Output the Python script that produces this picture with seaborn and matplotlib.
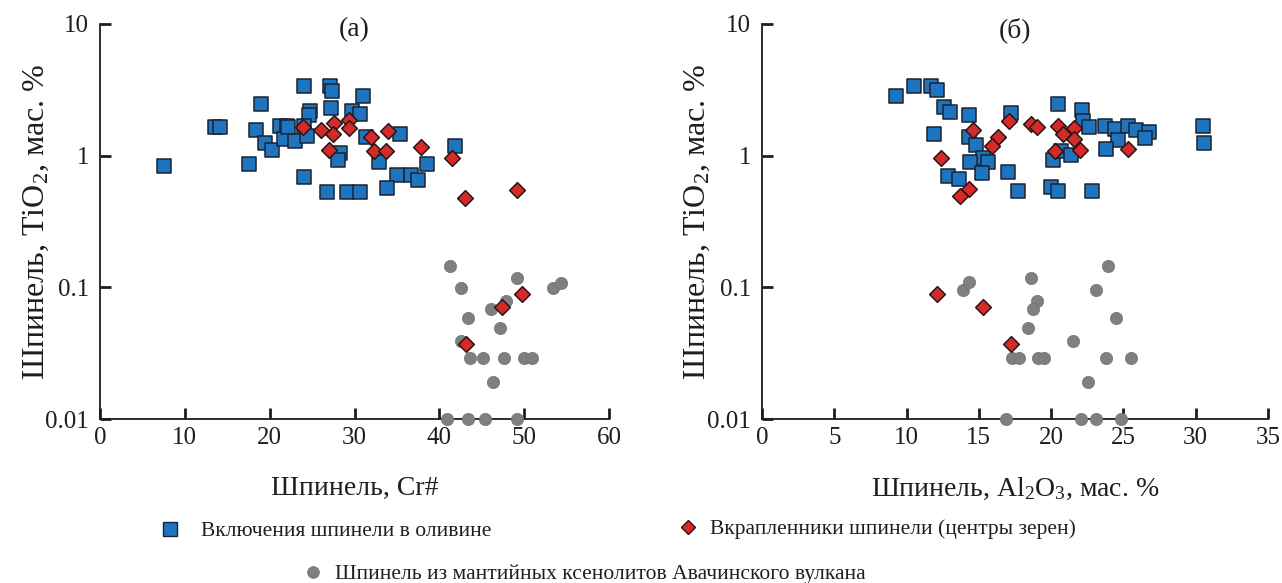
import matplotlib
matplotlib.use("Agg")
import matplotlib.pyplot as plt
from matplotlib.lines import Line2D
import seaborn as sns
import pandas as pd

# --- (а) Cr# vs TiO2 ---
a_incl_cr = [7.6, 13.5, 14.1, 17.6, 18.4, 19.0, 19.5, 20.3, 21.2, 22.0, 21.7, 23.0,
             24.1, 27.1, 27.3, 31.0, 24.8, 24.6, 27.2, 29.7, 30.7, 22.2, 24.0, 24.4,
             28.3, 28.1, 31.3, 35.4, 32.9, 38.6, 41.9, 35.0, 36.7, 37.5, 33.8, 24.1,
             26.7, 29.1, 30.6]
a_incl_ti = [0.84, 1.65, 1.65, 0.87, 1.58, 2.45, 1.24, 1.11, 1.69, 1.69, 1.34, 1.30,
             3.41, 3.41, 3.12, 2.83, 2.17, 2.02, 2.31, 2.20, 2.08, 1.64, 1.69, 1.42,
             1.04, 0.92, 1.38, 1.45, 0.90, 0.87, 1.19, 0.71, 0.71, 0.65, 0.57, 0.69,
             0.53, 0.53, 0.53]

a_phen_cr = [23.9, 26.1, 27.6, 27.5, 29.4, 29.3, 27.0, 32.0, 34.0, 32.3, 33.7, 37.8,
             41.5, 43.0, 49.2, 49.8, 47.4, 43.2]
a_phen_ti = [1.64, 1.58, 1.76, 1.46, 1.85, 1.62, 1.10, 1.38, 1.55, 1.09, 1.08, 1.16,
             0.96, 0.48, 0.55, 0.089, 0.071, 0.037]

a_xeno_cr = [41.2, 42.6, 49.2, 53.4, 54.4, 47.9, 46.1, 43.4, 47.1, 42.6, 43.6, 45.1,
             47.6, 50.0, 50.9, 46.3, 40.9, 43.4, 45.4, 49.1]
a_xeno_ti = [0.145, 0.098, 0.118, 0.098, 0.107, 0.079, 0.069, 0.059, 0.049, 0.039,
             0.029, 0.029, 0.029, 0.029, 0.029, 0.019, 0.01, 0.01, 0.01, 0.01]

# --- (б) Al2O3 vs TiO2 ---
b_incl_al = [9.3, 10.5, 11.7, 12.1, 12.6, 13.0, 14.3, 11.9, 14.3, 14.8, 15.3, 15.6,
             14.4, 15.25, 12.9, 13.6, 17.0, 17.2, 17.7, 20.5, 22.1, 22.2, 22.6, 23.7,
             24.4, 25.3, 25.9, 26.8, 24.6, 26.5, 23.8, 30.5, 30.55, 20.1, 20.7, 21.4,
             20.0, 20.5, 22.8]
b_incl_ti = [2.86, 3.41, 3.41, 3.14, 2.35, 2.15, 2.05, 1.45, 1.39, 1.20, 0.96, 0.90,
             0.89, 0.74, 0.70, 0.66, 0.75, 2.11, 0.54, 2.49, 2.21, 1.83, 1.64, 1.67,
             1.60, 1.69, 1.56, 1.51, 1.32, 1.36, 1.12, 1.69, 1.25, 0.93, 1.08, 1.02,
             0.58, 0.54, 0.54]

b_phen_al = [14.6, 12.4, 16.3, 15.9, 17.1, 14.3, 13.7, 18.6, 19.05, 20.5, 20.8, 21.6,
             21.6, 20.3, 22.0, 25.3, 12.1, 15.3, 17.2]
b_phen_ti = [1.56, 0.96, 1.39, 1.18, 1.83, 0.56, 0.49, 1.75, 1.64, 1.69, 1.45, 1.63,
             1.34, 1.09, 1.11, 1.12, 0.089, 0.071, 0.037]

b_xeno_al = [13.9, 14.3, 18.6, 19.0, 18.75, 18.4, 17.3, 17.8, 19.1, 19.5, 23.8, 25.5,
             21.5, 22.55, 23.9, 23.1, 24.5, 16.9, 22.05, 23.1, 24.8]
b_xeno_ti = [0.096, 0.109, 0.118, 0.079, 0.068, 0.049, 0.029, 0.029, 0.029, 0.029,
             0.029, 0.029, 0.039, 0.019, 0.145, 0.096, 0.059, 0.01, 0.01, 0.01, 0.01]

y_ticks = [0.01, 0.1, 1, 10]
y_tick_labels = ["0.01", "0.1", "1", "10"]

legend_labels = ["Включения шпинели в оливине",
                 "Вкрапленники шпинели (центры зерен)",
                 "Шпинель из мантийных ксенолитов Авачинского вулкана"]

BLUE, BLUE_EDGE = "#1f74c0", "#1b2233"
RED, RED_EDGE = "#d52a2a", "#2a1414"
GREY, GREY_EDGE = "#7f7f7f", "#727272"
INK = "#1e1e1e"

sns.set_style("ticks")
plt.rcParams["font.family"] = ["Liberation Serif", "DejaVu Serif"]
plt.rcParams["mathtext.fontset"] = "custom"
plt.rcParams["mathtext.rm"] = "Liberation Serif"
plt.rcParams["mathtext.it"] = "Liberation Serif:italic"

TICK_FS = 18
XLAB_FS = 20
YLAB_FS = 23
LEG_FS = 15.5

fig = plt.figure(figsize=(12.82, 5.83), dpi=100)
ax_a = fig.add_axes([100 / 1282, 1 - 419 / 583, 509 / 1282, 395 / 583])
ax_b = fig.add_axes([762 / 1282, 1 - 419 / 583, 506 / 1282, 395 / 583])


def draw_panel(ax, xi, yi, xp, yp, xx, yx):
    inc = pd.DataFrame({"x": xi, "y": yi})
    phen = pd.DataFrame({"x": xp, "y": yp})
    xeno = pd.DataFrame({"x": xx, "y": yx})
    sns.scatterplot(data=inc, x="x", y="y", ax=ax, marker="s", s=92,
                    color=BLUE, edgecolor=BLUE_EDGE, linewidth=1.1, zorder=3,
                    clip_on=False)
    sns.scatterplot(data=xeno, x="x", y="y", ax=ax, marker="o", s=78,
                    color=GREY, edgecolor=GREY_EDGE, linewidth=0.5, zorder=3,
                    clip_on=False)
    sns.scatterplot(data=phen, x="x", y="y", ax=ax, marker="D", s=64,
                    color=RED, edgecolor=RED_EDGE, linewidth=1.1, zorder=4,
                    clip_on=False)
    ax.set_yscale("log")
    ax.set_ylim(0.01, 10)
    ax.set_yticks(y_ticks)
    ax.set_yticklabels(y_tick_labels)
    ax.minorticks_off()
    for side in ("top", "right"):
        ax.spines[side].set_visible(False)
    for side in ("left", "bottom"):
        ax.spines[side].set_linewidth(1.3)
        ax.spines[side].set_color(INK)
    ax.tick_params(direction="in", length=8, width=2, labelsize=TICK_FS,
                   colors=INK, pad=6)
    ax.tick_params(axis="y", pad=8)


draw_panel(ax_a, a_incl_cr, a_incl_ti, a_phen_cr, a_phen_ti, a_xeno_cr, a_xeno_ti)
ax_a.set_xlim(0, 60)
ax_a.set_xticks(range(0, 61, 10))
ax_a.set_xlabel("Шпинель, Cr#", fontsize=XLAB_FS, color=INK)
ax_a.set_ylabel("Шпинель, TiO$_2$, мас. %", fontsize=YLAB_FS, color=INK)
ax_a.xaxis.set_label_coords(0.5, -0.145)
ax_a.yaxis.set_label_coords(-0.096, 0.5)
ax_a.text(0.5, 0.985, "(а)", transform=ax_a.transAxes, ha="center", va="center",
          fontsize=XLAB_FS, color=INK)

draw_panel(ax_b, b_incl_al, b_incl_ti, b_phen_al, b_phen_ti, b_xeno_al, b_xeno_ti)
ax_b.set_xlim(0, 35)
ax_b.set_xticks(range(0, 36, 5))
ax_b.set_xlabel("Шпинель, Al$_2$O$_3$, мас. %", fontsize=XLAB_FS, color=INK)
ax_b.set_ylabel("Шпинель, TiO$_2$, мас. %", fontsize=YLAB_FS, color=INK)
ax_b.xaxis.set_label_coords(0.5, -0.145)
ax_b.yaxis.set_label_coords(-0.099, 0.5)
ax_b.text(0.5, 0.985, "(б)", transform=ax_b.transAxes, ha="center", va="center",
          fontsize=XLAB_FS, color=INK)

handles = [
    Line2D([], [], marker="s", ls="none", ms=9.5, mfc=BLUE, mec=BLUE_EDGE, mew=1.0),
    Line2D([], [], marker="D", ls="none", ms=7.5, mfc=RED, mec=RED_EDGE, mew=1.0),
    Line2D([], [], marker="o", ls="none", ms=8.5, mfc=GREY, mec=GREY_EDGE, mew=0.5),
]
anchors = [(159 / 1282, 1 - 531 / 583, 0.97),
           (677 / 1282, 1 - 529 / 583, 0.51),
           (302 / 1282, 1 - 574 / 583, 0.51)]
for h, lab, (ax_x, ax_y, pad) in zip(handles, legend_labels, anchors):
    leg = fig.legend([h], [lab], loc="center left", bbox_to_anchor=(ax_x, ax_y),
                     frameon=False, fontsize=LEG_FS, borderpad=0, borderaxespad=0,
                     handlelength=1.0, handletextpad=pad)
    for t in leg.get_texts():
        t.set_color(INK)

fig.savefig("out.png", dpi=100, facecolor="white")
